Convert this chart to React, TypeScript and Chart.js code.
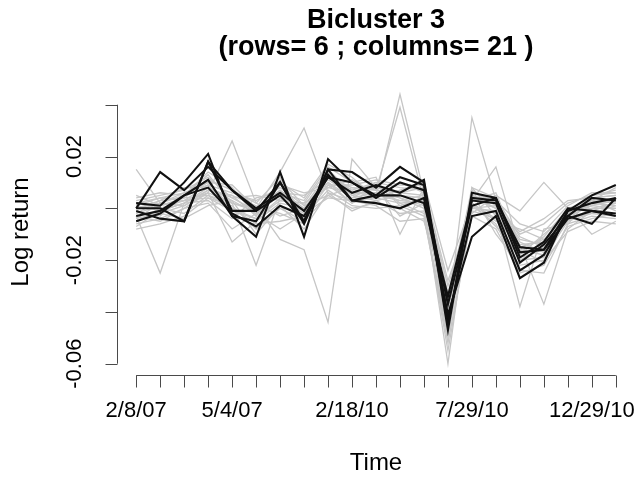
import React, { useEffect, useRef } from "react";
import { Chart, registerables } from "chart.js";

Chart.register(...registerables);

// 21 trading days (columns); only the labels R manages to fit are shown
const columnLabels = [
  "2/8/07", "", "", "", "5/4/07", "", "", "", "", "2/18/10", "",
  "", "", "", "7/29/10", "", "", "", "", "12/29/10", "",
];

// y axis ticks; R drops the labels that would collide
const yTickValues = [-0.06, -0.04, -0.02, 0, 0.02, 0.04];
const yTickLabels = ["-0.06", "", "-0.02", "", "0.02", ""];

// Log returns of the 6 stocks inside the bicluster (drawn in black)
const clusterRows = [
  [0.000, 0.014, 0.007, 0.016, 0.007, -0.001, 0.010, -0.005, 0.015, 0.014, 0.008, 0.016, 0.010, -0.047, 0.006, 0.004, -0.019, -0.013, 0.000, -0.001, -0.002],
  [0.002, 0.001, 0.010, 0.021, -0.003, -0.011, 0.014, -0.011, 0.019, 0.010, 0.005, 0.012, 0.009, -0.045, 0.004, 0.003, -0.015, -0.016, -0.001, 0.005, 0.009],
  [-0.001, -0.004, -0.005, 0.018, 0.007, 0.000, 0.006, -0.001, 0.012, 0.006, 0.009, 0.006, 0.011, -0.043, -0.003, -0.001, -0.024, -0.018, -0.003, -0.006, 0.004],
  [-0.003, -0.001, 0.005, 0.011, -0.003, -0.005, 0.010, -0.006, 0.015, 0.003, 0.002, 0.000, 0.004, -0.041, -0.011, -0.003, -0.027, -0.021, -0.001, 0.002, 0.004],
  [-0.005, -0.002, 0.005, 0.008, -0.002, -0.007, 0.001, -0.003, 0.012, 0.010, 0.004, 0.010, 0.007, -0.037, 0.001, 0.004, -0.017, -0.016, -0.004, -0.001, -0.003],
  [0.000, 0.000, -0.005, 0.018, -0.001, -0.001, 0.005, -0.005, 0.013, 0.003, 0.005, 0.005, 0.002, -0.034, 0.003, 0.002, -0.021, -0.014, -0.003, 0.004, 0.003],
];

// Log returns of the remaining stocks over the same days (drawn in grey)
const otherRows = [
  [-0.003, -0.025, 0.002, 0.008, 0.003, -0.002, 0.005, -0.001, 0.010, 0.004, 0.006, 0.003, 0.005, -0.040, 0.002, -0.004, -0.015, -0.012, -0.003, 0.001, 0.000],
  [0.015, 0.002, 0.005, 0.010, 0.000, -0.004, 0.003, 0.002, 0.008, 0.006, 0.005, 0.044, 0.006, -0.045, 0.004, 0.000, -0.018, -0.010, -0.002, 0.002, 0.003],
  [-0.005, 0.000, 0.003, 0.006, 0.026, 0.002, -0.003, 0.000, 0.012, 0.008, 0.007, 0.039, 0.003, -0.048, 0.005, 0.002, -0.012, -0.014, -0.005, 0.000, 0.002],
  [-0.002, 0.003, 0.004, 0.005, 0.002, -0.022, 0.004, -0.002, 0.014, 0.005, 0.003, 0.005, 0.004, -0.042, 0.035, 0.003, -0.020, -0.015, -0.001, 0.003, -0.001],
  [0.000, 0.002, 0.006, 0.009, -0.003, 0.000, 0.014, 0.031, 0.006, 0.003, 0.004, 0.002, -0.002, -0.050, 0.003, 0.016, -0.016, -0.018, -0.004, -0.002, 0.001],
  [-0.004, -0.002, 0.001, 0.007, 0.005, 0.001, -0.012, -0.016, -0.044, 0.019, 0.008, 0.006, 0.005, -0.038, 0.001, -0.002, -0.038, -0.008, -0.006, 0.004, 0.005],
  [-0.006, -0.004, 0.000, 0.006, -0.013, -0.005, 0.002, 0.000, 0.010, 0.002, 0.009, 0.004, 0.001, -0.060, 0.008, -0.003, -0.014, -0.037, -0.008, -0.001, 0.002],
  [0.003, 0.005, 0.007, 0.012, 0.004, -0.001, 0.006, 0.003, 0.016, 0.010, 0.012, -0.010, 0.008, -0.028, -0.002, 0.005, -0.001, 0.010, 0.000, -0.010, -0.005],
  [-0.008, -0.006, -0.003, 0.004, 0.001, -0.008, 0.000, -0.005, 0.005, 0.000, 0.002, 0.000, -0.005, -0.035, 0.006, -0.010, -0.022, -0.020, -0.009, -0.005, -0.006],
  [0.001, 0.004, 0.003, 0.009, 0.006, 0.003, 0.008, 0.001, 0.013, 0.007, 0.010, 0.008, 0.007, -0.030, 0.000, 0.001, -0.010, -0.006, 0.002, 0.005, 0.007],
  [-0.001, -0.003, 0.005, 0.014, 0.008, -0.003, 0.010, 0.004, 0.017, 0.012, 0.004, 0.007, 0.010, -0.024, 0.002, -0.005, -0.008, -0.012, -0.003, 0.003, 0.008],
  [0.002, 0.000, -0.002, 0.005, 0.000, -0.006, -0.005, -0.003, 0.007, 0.001, 0.000, 0.001, -0.003, -0.052, -0.003, -0.008, -0.025, -0.022, -0.007, -0.004, -0.002],
  [-0.007, -0.001, 0.002, 0.003, -0.004, 0.004, 0.006, 0.005, 0.011, 0.005, 0.008, -0.003, 0.002, -0.044, 0.004, 0.002, -0.013, -0.017, -0.002, 0.001, 0.004],
  [0.005, 0.001, 0.004, 0.011, 0.007, 0.002, 0.012, -0.004, 0.009, 0.009, 0.011, 0.009, 0.009, -0.033, 0.006, 0.003, -0.006, -0.009, 0.001, 0.006, 0.006],
  [-0.003, -0.005, 0.000, 0.002, -0.008, -0.002, -0.008, -0.002, 0.004, 0.003, 0.001, -0.005, -0.004, -0.047, 0.001, -0.006, -0.024, -0.025, -0.006, -0.003, -0.004],
  [0.000, 0.003, 0.008, 0.008, 0.004, 0.005, 0.003, 0.002, 0.015, 0.006, 0.006, 0.004, 0.000, -0.037, 0.008, 0.004, -0.011, -0.015, -0.004, 0.002, 0.001],
  [0.004, 0.006, 0.005, 0.013, 0.002, -0.001, 0.009, 0.006, 0.008, 0.011, 0.005, 0.010, 0.006, -0.041, 0.005, 0.000, -0.009, -0.004, 0.003, 0.004, 0.005],
  [-0.005, -0.002, -0.004, 0.001, 0.003, -0.010, 0.001, -0.008, 0.006, -0.001, 0.003, -0.002, -0.001, -0.055, -0.001, -0.004, -0.020, -0.019, -0.005, -0.002, -0.003],
  [0.002, 0.004, 0.006, 0.010, 0.009, 0.000, 0.007, 0.000, 0.012, 0.004, 0.009, 0.002, 0.003, -0.039, 0.003, 0.006, -0.017, -0.011, 0.000, 0.003, 0.002],
  [-0.002, 0.001, 0.003, 0.004, -0.001, -0.004, 0.004, -0.001, 0.009, 0.002, 0.005, 0.003, 0.002, -0.043, 0.000, -0.001, -0.014, -0.013, -0.001, 0.000, 0.000],
  [0.001, -0.001, 0.002, 0.007, 0.005, -0.003, 0.011, 0.001, 0.005, 0.008, 0.007, 0.006, 0.008, -0.036, 0.002, -0.007, -0.019, -0.016, -0.002, 0.001, 0.003],
  [-0.004, 0.002, 0.001, 0.006, 0.002, 0.000, -0.002, -0.006, 0.013, 0.006, 0.010, 0.001, 0.004, -0.046, 0.007, 0.001, -0.016, -0.021, -0.003, 0.005, 0.006],
];

const titleLines = ["Bicluster 3", "(rows= 6 ; columns= 21 )"];
const xTitle = "Time";
const yTitle = "Log return";

const FONT = "'Liberation Sans', Arial, Helvetica, sans-serif";
const GREY = "#c6c6c6";
const INK = "#111111";

const toPoints = (row: number[]) => row.map((v, i) => ({ x: i, y: v }));

// Base-R style axes, titles and labels drawn from the chart's own scales
const baseRAxes = {
  id: "baseRAxes",
  afterDraw(chart: any) {
    const { ctx, chartArea } = chart;
    const xs = chart.scales.x;
    const ys = chart.scales.y;
    const tick = 12;
    ctx.save();
    ctx.strokeStyle = "#4a4a4a";
    ctx.lineWidth = 1;

    // x axis: line from first to last column, one tick per column
    const ax = Math.round(chartArea.bottom) + 0.5;
    const x0 = xs.getPixelForValue(0);
    const x1 = xs.getPixelForValue(columnLabels.length - 1);
    ctx.beginPath();
    ctx.moveTo(x0, ax);
    ctx.lineTo(x1, ax);
    columnLabels.forEach((_, i) => {
      const px = Math.round(xs.getPixelForValue(i)) + 0.5;
      ctx.moveTo(px, ax);
      ctx.lineTo(px, ax + tick);
    });
    ctx.stroke();

    // y axis
    const ay = Math.round(chartArea.left) + 0.5;
    const yA = ys.getPixelForValue(yTickValues[0]);
    const yB = ys.getPixelForValue(yTickValues[yTickValues.length - 1]);
    ctx.beginPath();
    ctx.moveTo(ay, yA);
    ctx.lineTo(ay, yB);
    yTickValues.forEach((v) => {
      const py = Math.round(ys.getPixelForValue(v)) + 0.5;
      ctx.moveTo(ay, py);
      ctx.lineTo(ay - tick, py);
    });
    ctx.stroke();

    ctx.fillStyle = "#000";
    ctx.textAlign = "center";
    ctx.textBaseline = "middle";

    // x tick labels
    ctx.font = `22px ${FONT}`;
    columnLabels.forEach((lab, i) => {
      if (lab) ctx.fillText(lab, xs.getPixelForValue(i), chartArea.bottom + 36);
    });

    // y tick labels, rotated like las = 0
    yTickValues.forEach((v, i) => {
      const lab = yTickLabels[i];
      if (!lab) return;
      ctx.save();
      ctx.translate(chartArea.left - 42, ys.getPixelForValue(v));
      ctx.rotate(-Math.PI / 2);
      ctx.fillText(lab, 0, 0);
      ctx.restore();
    });

    // axis titles
    ctx.font = `24px ${FONT}`;
    const midX = (chartArea.left + chartArea.right) / 2;
    ctx.fillText(xTitle, midX, chartArea.bottom + 88);
    ctx.save();
    ctx.translate(21, 232);
    ctx.rotate(-Math.PI / 2);
    ctx.fillText(yTitle, 0, 0);
    ctx.restore();

    // main title
    ctx.font = `bold 27px ${FONT}`;
    ctx.fillText(titleLines[0], midX, 21);
    ctx.fillText(titleLines[1], midX, 48);
    ctx.restore();
  },
};

export default function App() {
  const canvasRef = useRef<HTMLCanvasElement | null>(null);

  useEffect(() => {
    if (!canvasRef.current) return;
    // grey rows sit underneath (higher order is drawn first), black rows on top
    const datasets = [
      ...otherRows.map((row, k) => ({
        label: `other ${k + 1}`,
        data: toPoints(row),
        borderColor: GREY,
        borderWidth: 1.3,
        pointRadius: 0,
        tension: 0,
        fill: false,
        order: 1,
      })),
      ...clusterRows.map((row, k) => ({
        label: `cluster ${k + 1}`,
        data: toPoints(row),
        borderColor: INK,
        borderWidth: 2.1,
        pointRadius: 0,
        tension: 0,
        fill: false,
        order: 0,
      })),
    ];

    const chart = new Chart(canvasRef.current, {
      type: "line",
      data: { datasets },
      options: {
        animation: false,
        responsive: false,
        devicePixelRatio: 1,
        layout: { padding: { left: 117, right: 7, top: 83, bottom: 104 } },
        plugins: {
          legend: { display: false },
          title: { display: false },
          tooltip: { enabled: false },
        },
        scales: {
          x: { type: "linear", min: -0.8, max: 20.8, display: false },
          y: { type: "linear", min: -0.06436, max: 0.04838, display: false },
        },
      },
      plugins: [baseRAxes],
    });
    return () => chart.destroy();
  }, []);

  return (
    <div style={{ position: "absolute", left: 0, top: 0, width: 642, height: 479, background: "#fff" }}>
      <canvas ref={canvasRef} width={642} height={479} style={{ display: "block" }} />
    </div>
  );
}
